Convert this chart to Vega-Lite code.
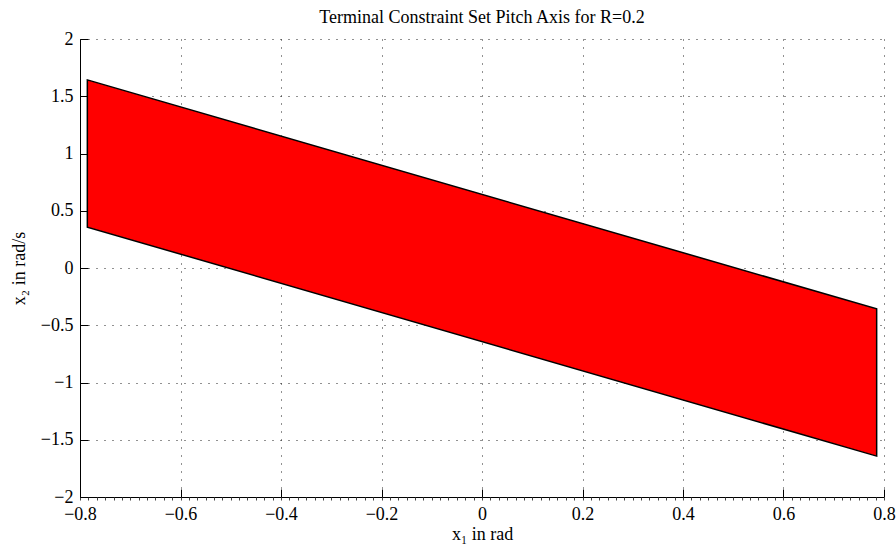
{
  "$schema": "https://vega.github.io/schema/vega-lite/v6.json",
  "autosize": "none",
  "width": 804,
  "height": 458,
  "padding": {"left": 80, "top": 39, "right": 12, "bottom": 48},
  "background": "white",
  "config": {
    "view": {"stroke": null},
    "font": "Liberation Serif",
    "axis": {
      "labelFont": "Liberation Serif",
      "titleFont": "Liberation Serif",
      "labelFontSize": 18,
      "titleFontSize": 18,
      "titleFontWeight": "normal",
      "labelColor": "black",
      "titleColor": "black",
      "domainColor": "black",
      "tickColor": "black",
      "gridColor": "#222222",
      "gridDash": [1, 7],
      "gridOpacity": 1,
      "labelFlush": false
    }
  },
  "title": {
    "text": "Terminal Constraint Set Pitch Axis for R=0.2",
    "font": "Liberation Serif",
    "fontSize": 18,
    "fontWeight": "normal",
    "color": "black",
    "anchor": "middle",
    "baseline": "alphabetic",
    "offset": -11
  },
  "data": {
    "values": [
      {"x1": -0.7854, "upper": 1.643, "lower": 0.357},
      {"x1": 0.7854, "upper": -0.357, "lower": -1.643}
    ]
  },
  "layer": [
    {
      "mark": {"type": "area", "color": "#ff0000", "stroke": "black", "strokeWidth": 1.5, "opacity": 1},
      "encoding": {
        "x": {
          "field": "x1", "type": "quantitative",
          "scale": {"domain": [-0.8, 0.8], "nice": false, "zero": false},
          "axis": {
            "title": "x₁ in rad",
            "values": [-0.8, -0.6, -0.4, -0.2, 0, 0.2, 0.4, 0.6, 0.8],
            "format": ".1~f",
            "grid": true,
            "tickSize": -8,
            "labelPadding": 16,
            "titlePadding": 2
          }
        },
        "y": {
          "field": "upper", "type": "quantitative",
          "scale": {"domain": [-2, 2], "nice": false, "zero": false},
          "axis": {
            "title": "x₂ in rad/s",
            "values": [-2, -1.5, -1, -0.5, 0, 0.5, 1, 1.5, 2],
            "format": ".1~f",
            "grid": true,
            "tickSize": -8,
            "labelPadding": 15,
            "titlePadding": 12
          }
        },
        "y2": {"field": "lower"}
      }
    },
    {
      "mark": {"type": "point", "opacity": 0},
      "encoding": {
        "x": {
          "field": "x1", "type": "quantitative",
          "scale": {"domain": [-0.8, 0.8], "nice": false, "zero": false},
          "axis": {
            "orient": "bottom",
            "title": null,
            "labels": false,
            "grid": false,
            "domain": false,
            "tickSize": 3,
            "tickColor": "#444444",
            "values": [-0.8,-0.78333,-0.76667,-0.75,-0.73333,-0.71667,-0.7,-0.68333,-0.66667,-0.65,-0.63333,-0.61667,-0.6,-0.58333,-0.56667,-0.55,-0.53333,-0.51667,-0.5,-0.48333,-0.46667,-0.45,-0.43333,-0.41667,-0.4,-0.38333,-0.36667,-0.35,-0.33333,-0.31667,-0.3,-0.28333,-0.26667,-0.25,-0.23333,-0.21667,-0.2,-0.18333,-0.16667,-0.15,-0.13333,-0.11667,-0.1,-0.08333,-0.06667,-0.05,-0.03333,-0.01667,0,0.01667,0.03333,0.05,0.06667,0.08333,0.1,0.11667,0.13333,0.15,0.16667,0.18333,0.2,0.21667,0.23333,0.25,0.26667,0.28333,0.3,0.31667,0.33333,0.35,0.36667,0.38333,0.4,0.41667,0.43333,0.45,0.46667,0.48333,0.5,0.51667,0.53333,0.55,0.56667,0.58333,0.6,0.61667,0.63333,0.65,0.66667,0.68333,0.7,0.71667,0.73333,0.75,0.76667,0.78333,0.8]
          }
        }
      }
    }
  ],
  "resolve": {"axis": {"x": "independent"}}
}
